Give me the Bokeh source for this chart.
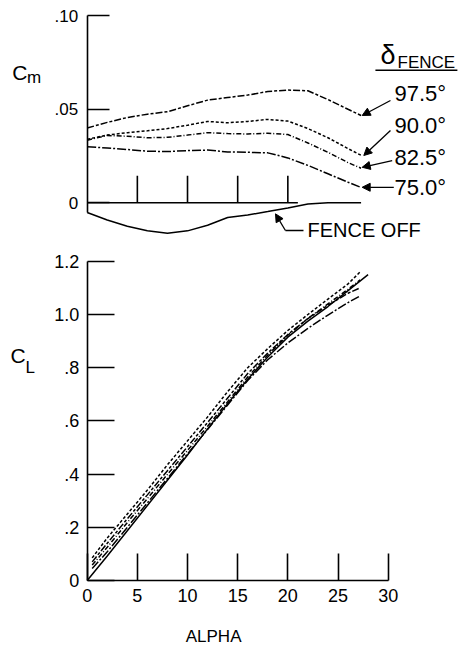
from bokeh.plotting import figure
from bokeh.models import Range1d, LinearAxis, FixedTicker, Label, Arrow, NormalHead
from bokeh.embed import file_html
from bokeh.resources import INLINE

FONT = "Liberation Sans"

# ---------------- data: pitching moment (top panel) ----------------
cm_alpha = [0, 2, 4, 6, 8, 10, 12, 14, 16, 18, 20, 22, 24, 26, 27.3]
cm_975 = [0.0400, 0.0430, 0.0456, 0.0474, 0.0487, 0.0519, 0.0549, 0.0563, 0.0576, 0.0595,
          0.0603, 0.0599, 0.0552, 0.0500, 0.0467]
cm_900 = [0.0340, 0.0362, 0.0375, 0.0385, 0.0397, 0.0415, 0.0435, 0.0428, 0.0435, 0.0446,
          0.0437, 0.0397, 0.0348, 0.0290, 0.0254]
cm_825 = [0.0335, 0.0360, 0.0356, 0.0348, 0.0350, 0.0362, 0.0375, 0.0370, 0.0368, 0.0372,
          0.0365, 0.0320, 0.0270, 0.0215, 0.0185]
cm_750 = [0.0300, 0.0293, 0.0285, 0.0276, 0.0274, 0.0279, 0.0282, 0.0272, 0.0270, 0.0267,
          0.0240, 0.0200, 0.0155, 0.0110, 0.0082]
cm_off_alpha = [0, 2, 4, 6, 8, 10, 12, 14, 16, 18, 20, 22, 24, 26, 27.3]
cm_off = [-0.0052, -0.0092, -0.0125, -0.0150, -0.0163, -0.0150, -0.0120, -0.0079, -0.0065,
          -0.0047, -0.0028, -0.0007, 0.0, 0.0, 0.0]

# ---------------- data: lift coefficient (bottom panel) ----------------
cl_alpha = [0.5, 2, 4, 6, 8, 10, 12, 14, 16, 18, 20, 22, 24, 26, 27.2]
cl_900 = [0.085, 0.160, 0.250, 0.340, 0.435, 0.525, 0.615, 0.710, 0.800, 0.872, 0.940,
          1.000, 1.058, 1.115, 1.160]
cl_975 = [0.070, 0.140, 0.232, 0.322, 0.413, 0.503, 0.594, 0.686, 0.778, 0.855, 0.925,
          0.985, 1.035, 1.080, 1.100]
cl_825 = [0.058, 0.125, 0.218, 0.308, 0.399, 0.489, 0.580, 0.672, 0.765, 0.848, 0.922,
          0.985, 1.040, 1.095, 1.130]
cl_750 = [0.045, 0.108, 0.200, 0.292, 0.384, 0.476, 0.568, 0.660, 0.752, 0.830, 0.893,
          0.948, 0.998, 1.045, 1.070]
cl_off_alpha = [0, 2, 4, 6, 8, 10, 12, 14, 16, 18, 20, 22, 24, 26, 28]
cl_off = [0.0, 0.092, 0.187, 0.282, 0.377, 0.472, 0.570, 0.665, 0.757, 0.840, 0.915,
          0.975, 1.030, 1.090, 1.150]

# ---------------- ticks / labels ----------------
alpha_ticks = [0, 5, 10, 15, 20, 25, 30]
cl_ticks = [0, 0.2, 0.4, 0.6, 0.8, 1.0, 1.2]
cl_tick_labels = ["0", ".2", ".4", ".6", ".8", "1.0", "1.2"]
cm_ticks = [0, 0.05, 0.10]
cm_tick_labels = ["0", ".05", ".10"]
cm_zero_ticks = [5, 10, 15, 20]
fence_labels = ["97.5\u00b0", "90.0\u00b0", "82.5\u00b0", "75.0\u00b0"]
x_title = "ALPHA"

# styles
dash_975 = "7 2 3 2"
dash_900 = "3 2"
dash_825 = "5 2 1 2"
dash_750 = "9 2 2 2"
LW = 1.5

# frame covers the whole canvas; axes are pinned at alpha = 0 / coefficient = 0
p = figure(width=461, height=648, output_backend="svg", toolbar_location=None,
           x_range=Range1d(-8.641, 37.31), y_range=Range1d(-0.2556, 2.1805),
           x_axis_type=None, y_axis_type=None,
           min_border_left=0, min_border_right=0, min_border_top=0, min_border_bottom=0)
p.extra_y_ranges = {"cm": Range1d(-0.23834, 0.10818)}
p.outline_line_color = None
p.background_fill_color = "white"
p.border_fill_color = "white"


def style_axis(ax, tick_in, size):
    ax.axis_line_width = 1.6
    ax.axis_line_color = "black"
    ax.major_tick_line_width = 1.6
    ax.major_tick_in = tick_in
    ax.major_tick_out = 0
    ax.minor_tick_line_color = None
    ax.major_label_text_font = FONT
    ax.major_label_text_font_size = size
    ax.major_label_text_color = "black"


xax = LinearAxis(ticker=FixedTicker(ticks=alpha_ticks), bounds=(0, 30), fixed_location=0)
style_axis(xax, 27, "18px")
xax.major_label_standoff = 8
p.add_layout(xax, "below")

yax = LinearAxis(ticker=FixedTicker(ticks=cl_ticks), bounds=(0, 1.2), fixed_location=0,
                 major_label_overrides=dict(zip(cl_ticks, cl_tick_labels)))
style_axis(yax, 27, "18px")
yax.major_label_standoff = 8
p.add_layout(yax, "left")

cmax = LinearAxis(y_range_name="cm", fixed_location=0, ticker=FixedTicker(ticks=cm_ticks),
                  bounds=(-0.0053, 0.10),
                  major_label_overrides=dict(zip(cm_ticks, cm_tick_labels)))
style_axis(cmax, 22, "17px")
cmax.major_label_standoff = 9
p.add_layout(cmax, "left")

# zero line of the Cm panel with upward ticks
p.segment(x0=[0], y0=[0], x1=[21], y1=[0], y_range_name="cm", line_color="black", line_width=1.6)
p.segment(x0=cm_zero_ticks, y0=[0] * len(cm_zero_ticks), x1=cm_zero_ticks,
          y1=[0.0144] * len(cm_zero_ticks), y_range_name="cm", line_color="black", line_width=1.6)

# Cm curves
for ys, d in [(cm_975, dash_975), (cm_900, dash_900), (cm_825, dash_825), (cm_750, dash_750)]:
    p.line(cm_alpha, ys, y_range_name="cm", line_color="black", line_width=LW, line_dash=d)
p.line(cm_off_alpha, cm_off, y_range_name="cm", line_color="black", line_width=LW)

# CL curves
for ys, d in [(cl_975, dash_975), (cl_900, dash_900), (cl_825, dash_825), (cl_750, dash_750)]:
    p.line(cl_alpha, ys, line_color="black", line_width=LW, line_dash=d)
p.line(cl_off_alpha, cl_off, line_color="black", line_width=LW)


def lab(x, y, text, size, rng="default", baseline="alphabetic", align="left"):
    p.add_layout(Label(x=x, y=y, y_range_name=rng, text=text, text_font=FONT,
                       text_font_size=size, text_color="black", text_baseline=baseline,
                       text_align=align))


# axis titles with subscripts
lab(-7.47, 0.0698, "C", "21px", "cm")
lab(-6.0, 0.0672, "m", "17px", "cm")
lab(-7.64, 0.846, "C", "21px")
lab(-6.15, 0.801, "L", "17px")
lab(12.6, -0.2105, x_title, "17px", align="center")

# legend heading
lab(29.23, 0.0788, "\u03b4", "27px", "cm")
lab(30.93, 0.0748, "FENCE", "17px", "cm")
p.line([28.73, 36.9], [0.0709, 0.0709], y_range_name="cm", line_color="black", line_width=1.5)

# legend labels and arrows
label_y = [0.0582, 0.0413, 0.0242, 0.0082]
arrows = [(30.23, 0.0547, 27.41, 0.0467), (30.23, 0.0387, 27.57, 0.0253),
          (30.40, 0.0226, 27.41, 0.0190), (30.56, 0.0083, 27.41, 0.0083)]
for t, yy, (xs, ys, xe, ye) in zip(fence_labels, label_y, arrows):
    lab(30.63, yy, t, "22px", "cm", "middle")
    p.add_layout(Arrow(x_start=xs, y_start=ys, x_end=xe, y_end=ye, y_range_name="cm",
                       line_color="black", line_width=1.3,
                       end=NormalHead(size=8, fill_color="black", line_color="black")))

# FENCE OFF label with leader
lab(21.96, -0.0148, "FENCE OFF", "20px", "cm", "middle")
p.line([19.76, 21.56], [-0.0148, -0.0148], y_range_name="cm", line_color="black", line_width=1.3)
p.add_layout(Arrow(x_start=19.76, y_start=-0.0148, x_end=18.77, y_end=-0.0059, y_range_name="cm",
                   line_color="black", line_width=1.3,
                   end=NormalHead(size=8, fill_color="black", line_color="black")))

open("out.html", "w").write(file_html(p, INLINE))
